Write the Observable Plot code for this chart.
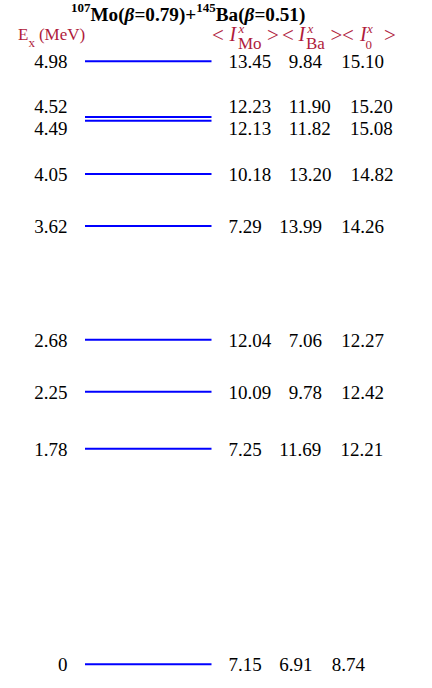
<!DOCTYPE html>
<html><head><meta charset="utf-8">
<script src="https://cdn.jsdelivr.net/npm/d3@7"></script>
<script src="https://cdn.jsdelivr.net/npm/@observablehq/plot@0.6"></script>
<style>body{margin:0;background:#fff} #chart{width:432px;height:688px;}</style>
</head><body><div id="chart"></div>
<script>
// ---- data ----
const energyLabels = ["0", "1.78", "2.25", "2.68", "3.62", "4.05", "4.49", "4.52", "4.98"];
const energies = [0, 1.78, 2.25, 2.68, 3.62, 4.05, 4.49, 4.52, 4.98];
const iMo = [7.15, 7.25, 10.09, 12.04, 7.29, 10.18, 12.13, 12.23, 13.45];
const iBa = [6.91, 11.69, 9.78, 7.06, 13.99, 13.20, 11.82, 11.90, 9.84];
const i0  = [8.74, 12.21, 12.42, 12.27, 14.26, 14.82, 15.08, 15.20, 15.10];

// ---- layout ----
const FONT = "'Liberation Serif', 'Times New Roman', serif";
const fs = 19;
const red = "#b01c3c";
const labelShift = {"4.52": 0.09, "4.49": -0.065}; // spread labels of close levels
const ctx = document.createElement("canvas").getContext("2d");
ctx.font = `${fs}px "Liberation Serif"`;
const w = s => ctx.measureText(s).width;
const fmt = v => v.toFixed(2);

const rows = energies.map((e, i) => {
  const a = fmt(iMo[i]), b = fmt(iBa[i]), c = fmt(i0[i]);
  const x1 = 228, x2 = x1 + w(a) + 17.5, x3 = x2 + w(b) + 19.2;
  return {e, label: energyLabels[i], ly: e + (labelShift[energyLabels[i]] || 0), a, b, c, x1, x2, x3};
});

const txt = {fontSize: fs, fill: "black", dy: 0.8, textAnchor: "start"};
const plot = Plot.plot({
  width: 432, height: 688,
  marginTop: 60.8, marginBottom: 24.2, marginLeft: 0, marginRight: 0,
  x: {type: "identity", axis: null},
  y: {domain: [0, 4.98], axis: null},
  style: {fontFamily: FONT, background: "white"},
  marks: [
    Plot.ruleY(rows, {y: "e", x1: 85, x2: 211.5, stroke: "#0000ff", strokeWidth: 2}),
    Plot.text(rows, {...txt, x: 67, y: "ly", text: "label", textAnchor: "end"}),
    Plot.text(rows, {...txt, x: "x1", y: "ly", text: "a"}),
    Plot.text(rows, {...txt, x: "x2", y: "ly", text: "b"}),
    Plot.text(rows, {...txt, x: "x3", y: "ly", text: "c"})
  ]
});
document.getElementById("chart").appendChild(plot);

// ---- title and column headers ----
const svg = d3.select(plot);
const g = svg.append("g").attr("font-family", FONT).attr("text-anchor", "start");
const title = g.append("text").attr("x", 71).attr("y", 21)
  .attr("font-size", 19.2).attr("font-weight", "bold").attr("fill", "black");
title.append("tspan").attr("font-size", 13).attr("dy", -9.5).text("107");
title.append("tspan").attr("dy", 9.5).text("Mo(");
title.append("tspan").attr("font-style", "italic").text("β");
title.append("tspan").text("=0.79)+");
title.append("tspan").attr("font-size", 13).attr("dy", -9.5).text("145");
title.append("tspan").attr("dy", 9.5).text("Ba(");
title.append("tspan").attr("font-style", "italic").text("β");
title.append("tspan").text("=0.51)");

const ex = g.append("text").attr("x", 18).attr("y", 40).attr("font-size", 17).attr("fill", red);
ex.append("tspan").text("E");
ex.append("tspan").attr("font-size", 13).attr("dy", 7).text("x");
ex.append("tspan").attr("dy", -7).attr("dx", 4).text("(MeV)");

const head = [
  ["<", 212, 42, 21, false], ["I", 229.5, 41, 20, true], ["x", 238.5, 32.5, 13, true], ["Mo", 238, 49, 17, false],
  [">", 267, 42, 21, false], ["<", 282, 42, 21, false], ["I", 298.5, 41, 20, true], ["x", 307.5, 32.5, 13, true], ["Ba", 306, 49, 17, false],
  [">", 330.5, 42, 21, false], ["<", 342, 42, 21, false], ["I", 360, 41, 20, true], ["x", 367, 32.5, 13, true], ["0", 365.5, 48.5, 13, false],
  [">", 384, 42, 21, false]
];
g.selectAll(".hd").data(head).join("text")
  .attr("x", d => d[1]).attr("y", d => d[2]).attr("font-size", d => d[3])
  .attr("font-style", d => d[4] ? "italic" : "normal").attr("fill", red).text(d => d[0]);
</script>
</body></html>
